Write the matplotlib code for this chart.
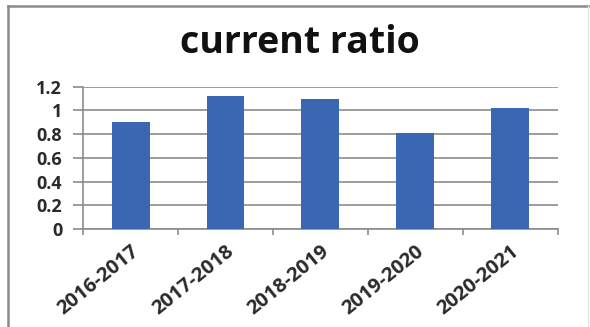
import matplotlib.pyplot as plt
import matplotlib.transforms as mtransforms
from matplotlib.lines import Line2D

# current ratio per year
years = ['2016-2017', '2017-2018', '2018-2019', '2019-2020', '2020-2021']
ratio = [0.90, 1.12, 1.10, 0.81, 1.02]

plt.rcParams['font.family'] = ['Open Sans', 'DejaVu Sans']

fig = plt.figure(figsize=(5.9, 3.27), dpi=100)
ax = fig.add_axes([0.1407, 0.2997, 0.805, 0.4352])

x = range(len(years))
ax.bar(x, ratio, width=0.4, color='#3a67b1', zorder=3)

ax.set_xlim(-0.5, len(years) - 0.5)
ax.set_ylim(0, 1.2)
ax.set_yticks([0, 0.2, 0.4, 0.6, 0.8, 1, 1.2])
ax.set_yticklabels(['0', '0.2', '0.4', '0.6', '0.8', '1', '1.2'],
                   fontsize=13, fontweight='bold', color='#2a2a2a')
ax.yaxis.grid(True, color='#8c8c8c', linewidth=1.2, zorder=0)

ax.set_xticks(x)
ax.set_xticklabels(years, rotation=39, ha='right', rotation_mode='anchor',
                   fontsize=14.5, fontweight='bold', color='#2a2a2a')
shift = mtransforms.ScaledTranslation(5 / 100, 0, fig.dpi_scale_trans)
for lab in ax.get_xticklabels():
    lab.set_transform(lab.get_transform() + shift)
# ticks between categories, like the spreadsheet chart
ax.set_xticks([i - 0.5 for i in range(len(years) + 1)], minor=True)
ax.tick_params(axis='x', which='major', length=0, pad=9)
ax.tick_params(axis='x', which='minor', length=4.5, color='#8c8c8c', width=1.2)
ax.tick_params(axis='y', length=7, color='#8c8c8c', width=1.2, pad=8)

for side in ['top', 'right']:
    ax.spines[side].set_visible(False)
for side in ['left', 'bottom']:
    ax.spines[side].set_color('#8c8c8c')
    ax.spines[side].set_linewidth(1.2)

fig.text(0.508, 0.868, 'current ratio', ha='center', va='center',
         fontsize=27, fontweight='bold', color='#111111')

# outer frame
fig.add_artist(Line2D([8 / 590, 8 / 590], [0, 1 - 6 / 327], color='#8a8a8a', linewidth=1.8))
fig.add_artist(Line2D([8 / 590, 1], [1 - 6 / 327, 1 - 6 / 327], color='#8a8a8a', linewidth=1.8))
fig.add_artist(Line2D([588 / 590, 588 / 590], [0, 1 - 6 / 327], color='#e6e6e6', linewidth=1))

fig.savefig('out.png', dpi=100)
